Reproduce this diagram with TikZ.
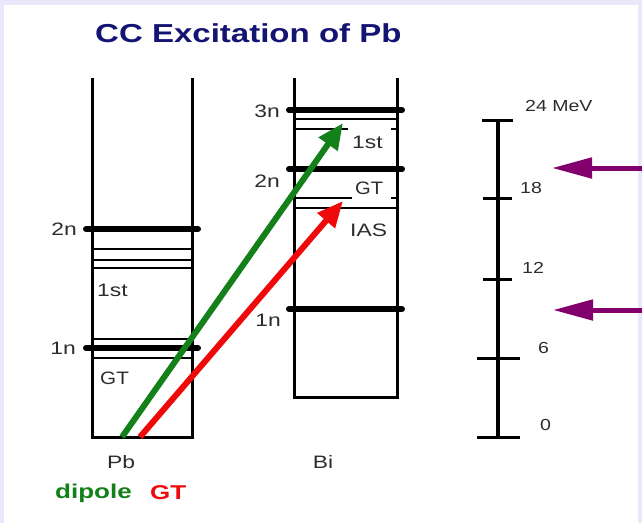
\documentclass[tikz,border=0pt]{standalone}
\usepackage{fontspec}
\setmainfont{Liberation Sans}
\usepackage{xcolor}
\usepackage{tikz}
\definecolor{clrFrame} {RGB}{232,232,250}
\definecolor{clrTitle} {RGB}{20,20,115}
\definecolor{clrDipole}{RGB}{20,128,25}
\definecolor{clrGT}    {RGB}{238,10,10}
\definecolor{clrProbe} {RGB}{130,0,110}
\definecolor{clrText}  {RGB}{45,45,45}
\usetikzlibrary{arrows.meta,positioning}
\newcommand\hwide[2][1.27]{\scalebox{#1}[1]{#2}}

\begin{document}
\begin{tikzpicture}[
  x=1pt, y=-1pt,
  every node/.style = {font=\fontsize{18}{20}\selectfont, text=clrText, inner sep=0pt},
  %--- line styles ---------------------------------------------------
  wall/.style     = {line width=3pt},
  major/.style    = {line width=6pt, line cap=round},
  minor/.style    = {line width=2pt},
  axis/.style     = {line width=4pt},
  tick/.style     = {line width=3pt},
  trans/.style    = {line width=6pt, -{Triangle[length=26pt,width=22pt]}},
  probe/.style    = {line width=5pt, color=clrProbe, -{Triangle[length=40pt,width=20pt]}},
  %--- text styles ---------------------------------------------------
  lvl/.style      = {anchor=east},
  tag/.style      = {anchor=west},
  mev/.style      = {anchor=west, font=\fontsize{16}{18}\selectfont},
]

% ---- Frame --------------------------------------------------------
\useasboundingbox (0,0) rectangle (642,523);
\fill[clrFrame] (0,0) rectangle (642,523);
\fill[white] (4,5) rectangle (638,523);

\node[anchor=west, text=clrTitle, font=\fontsize{26}{28}\selectfont\bfseries] (title) at (95,33)
    {\hwide{CC Excitation of Pb}};

% ---- Pb levels ----------------------------------------------------
\draw[wall] (92,78) -- (92,437) -- (192,437) -- (192,78);
\draw[major] (86,229) -- (198,229);
\foreach \y in {249,260,268,339,358}
  \draw[minor] (92,\y) -- (192,\y);
\draw[major] (86,348) -- (198,348);

\node[lvl] (pb2n) at (77,229) {\hwide{2n}};
\node[lvl] (pb1n) at (76,348) {\hwide{1n}};
\node[tag] (pb1st) at (97,290) {\hwide{1st}};
\node[tag] (pbgt) at (100,378) {\hwide[1.15]{GT}};
\node (pb) at (121,462) {\hwide{Pb}};

% ---- Bi levels ----------------------------------------------------
\draw[wall] (294,78) -- (294,397) -- (397,397) -- (397,78);
\draw[major] (289,110) -- (402,110);
\draw[minor] (294,119) -- (397,119);
\draw[minor] (294,129) -- (348,129);
\draw[minor] (391,129) -- (397,129);
\draw[major] (289,169) -- (402,169);
\draw[minor] (294,198) -- (352,198);
\draw[minor] (391,198) -- (397,198);
\draw[minor] (294,208) -- (397,208);
\draw[major] (289,309) -- (402,309);

\node[lvl] (bi3n) at (280,111) {\hwide{3n}};
\node[lvl] (bi2n) at (280,181) {\hwide{2n}};
\node[lvl] (bi1n) at (281,320) {\hwide{1n}};
\node[tag] (bi1st) at (352,142) {\hwide{1st}};
\node[tag] (bigt) at (355,188) {\hwide[1.12]{GT}};
\node[tag] (bias) at (350,230) {\hwide{IAS}};
\node (bi) at (323,462) {\hwide{Bi}};

% ---- Transitions --------------------------------------------------
\coordinate (dipFrom) at (122,437);
\coordinate (dipTo)   at (343,123);
\coordinate (gtFrom)  at (140,437);
\coordinate (gtTo)    at (343,201);
\draw[trans, clrDipole] (dipFrom) -- (dipTo);
\draw[trans, clrGT]     (gtFrom)  -- (gtTo);

\node[tag, text=clrDipole, font=\fontsize{20}{22}\selectfont\bfseries] (dipole) at (55,493) {\hwide[1.3]{dipole}};
\node[tag, text=clrGT, font=\fontsize{20}{22}\selectfont\bfseries] (gt) at (150,493) {\hwide[1.3]{GT}};

% ---- Energy scale -------------------------------------------------
\draw[axis] (498,120) -- (498,437);
\draw[tick] (482,120) -- (513,120);
\draw[tick] (483,198) -- (512,198);
\draw[tick] (483,279) -- (512,279);
\draw[tick] (477,358) -- (520,358);
\draw[tick] (477,437) -- (520,437);

\node[mev] (e24) at (525,106) {\hwide[1.22]{24 MeV}};
\node[mev] (e18) at (520,188) {\hwide[1.22]{18}};
\node[mev] (e12) at (522,268) {\hwide[1.22]{12}};
\node[mev] (e6)  at (538,348) {\hwide[1.22]{6}};
\node[mev] (e0)  at (540,425) {\hwide[1.22]{0}};

% ---- Probes -------------------------------------------------------
\coordinate (upFrom) at (642,168);
\coordinate (upTo)   at (552,168);
\coordinate (loFrom) at (642,310);
\coordinate (loTo)   at (553,310);
\draw[probe] (upFrom) -- (upTo);
\draw[probe] (loFrom) -- (loTo);

\end{tikzpicture}
\end{document}
